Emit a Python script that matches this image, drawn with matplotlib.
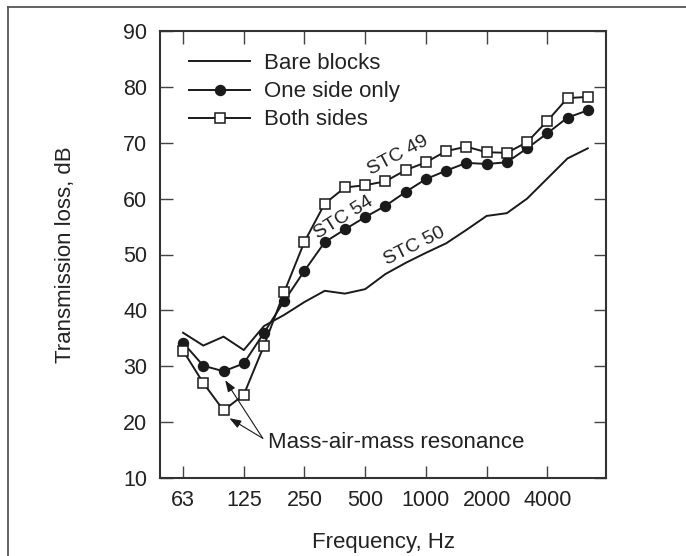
import matplotlib.pyplot as plt
from matplotlib.lines import Line2D

plt.rcParams['font.family'] = ['Liberation Sans', 'DejaVu Sans']

# third-octave bands, 63 Hz .. 6300 Hz (plotted by band index)
bands = [63, 80, 100, 125, 160, 200, 250, 315, 400, 500, 630, 800,
         1000, 1250, 1600, 2000, 2500, 3150, 4000, 5000, 6300]
tick_labels = ["63", "125", "250", "500", "1000", "2000", "4000"]

bare_blocks = [36.0, 33.7, 35.3, 32.9, 37.2, 39.2, 41.5, 43.5, 43.0, 43.8, 46.5,
               48.5, 50.3, 52.0, 54.4, 56.9, 57.4, 60.0, 63.6, 67.2, 69.0]
one_side = [34.2, 30.1, 29.1, 30.5, 36.0, 41.7, 47.1, 52.2, 54.5, 56.7, 58.7,
            61.2, 63.5, 65.0, 66.4, 66.2, 66.5, 69.0, 71.7, 74.5, 75.8]
both_sides = [32.8, 27.0, 22.1, 24.9, 33.7, 43.3, 52.3, 59.1, 62.0, 62.4, 63.1,
              65.1, 66.5, 68.5, 69.3, 68.3, 68.2, 70.1, 73.9, 78.0, 78.2]

ink = "#1a1a1a"
txt = "#222222"

x = list(range(len(bands)))

fig = plt.figure(figsize=(6.86, 5.56), dpi=100)
ax = fig.add_axes([160 / 686, 78 / 556, 446 / 686, 447 / 556])

ax.plot(x, bare_blocks, color=ink, lw=1.4, label="Bare blocks")
ax.plot(x, one_side, color=ink, lw=1.4, marker="o", ms=7.2,
        mfc=ink, mec=ink, label="One side only")
ax.plot(x, both_sides, color=ink, lw=1.4, marker="s", ms=6.6,
        mfc="white", mec=ink, mew=1.1, label="Both sides")

ax.set_xlim(-1.14, 20.9)
ax.set_ylim(10, 90)
ax.set_xticks(x[::3][:len(tick_labels)])
ax.set_xticklabels(tick_labels)
ax.set_yticks(range(10, 91, 10))

ax.tick_params(direction="in", length=9, width=1, color="#444444",
               top=True, right=True, labelsize=15.5, labelcolor=txt)
ax.tick_params(axis="x", pad=9)
ax.tick_params(axis="y", pad=9)
for s in ax.spines.values():
    s.set_linewidth(1.5)
    s.set_color("#333333")

ax.set_xlabel("Frequency, Hz", fontsize=16, color=txt, labelpad=15)
ax.set_ylabel("Transmission loss, dB", fontsize=16, color=txt, labelpad=34)

leg = ax.legend(loc="upper left", bbox_to_anchor=(0.021, 0.995), frameon=False,
                fontsize=16, handlelength=2.75, handletextpad=0.6,
                labelspacing=0.32)
for t in leg.get_texts():
    t.set_color(txt)

# STC annotations
ax.text(10.63, 67.7, "STC 49", rotation=28, fontsize=14, color=txt,
        ha="center", va="center", rotation_mode="anchor")
ax.text(7.95, 56.6, "STC 54", rotation=32, fontsize=14, color=txt,
        ha="center", va="center", rotation_mode="anchor")
ax.text(11.43, 51.5, "STC 50", rotation=26.5, fontsize=14, color=txt,
        ha="center", va="center", rotation_mode="anchor")

# resonance note with arrows
ax.text(4.2, 16.3, "Mass-air-mass resonance", fontsize=16, color=txt,
        ha="left", va="center")
for tip in [(2.08, 27.5), (2.29, 20.7)]:
    ax.annotate("", xy=tip, xytext=(3.94, 17.1),
                arrowprops=dict(arrowstyle="-|>,head_length=0.7,head_width=0.25",
                                lw=0.8, color=ink, shrinkA=0, shrinkB=0))

# outer frame (only top and left edges show)
fig.add_artist(Line2D([8 / 686, 8 / 686], [0, 1 - 7 / 556],
                      transform=fig.transFigure, color="#555555", lw=1.3))
fig.add_artist(Line2D([8 / 686, 1], [1 - 7 / 556, 1 - 7 / 556],
                      transform=fig.transFigure, color="#555555", lw=1.3))

fig.savefig("out.png", dpi=100)
